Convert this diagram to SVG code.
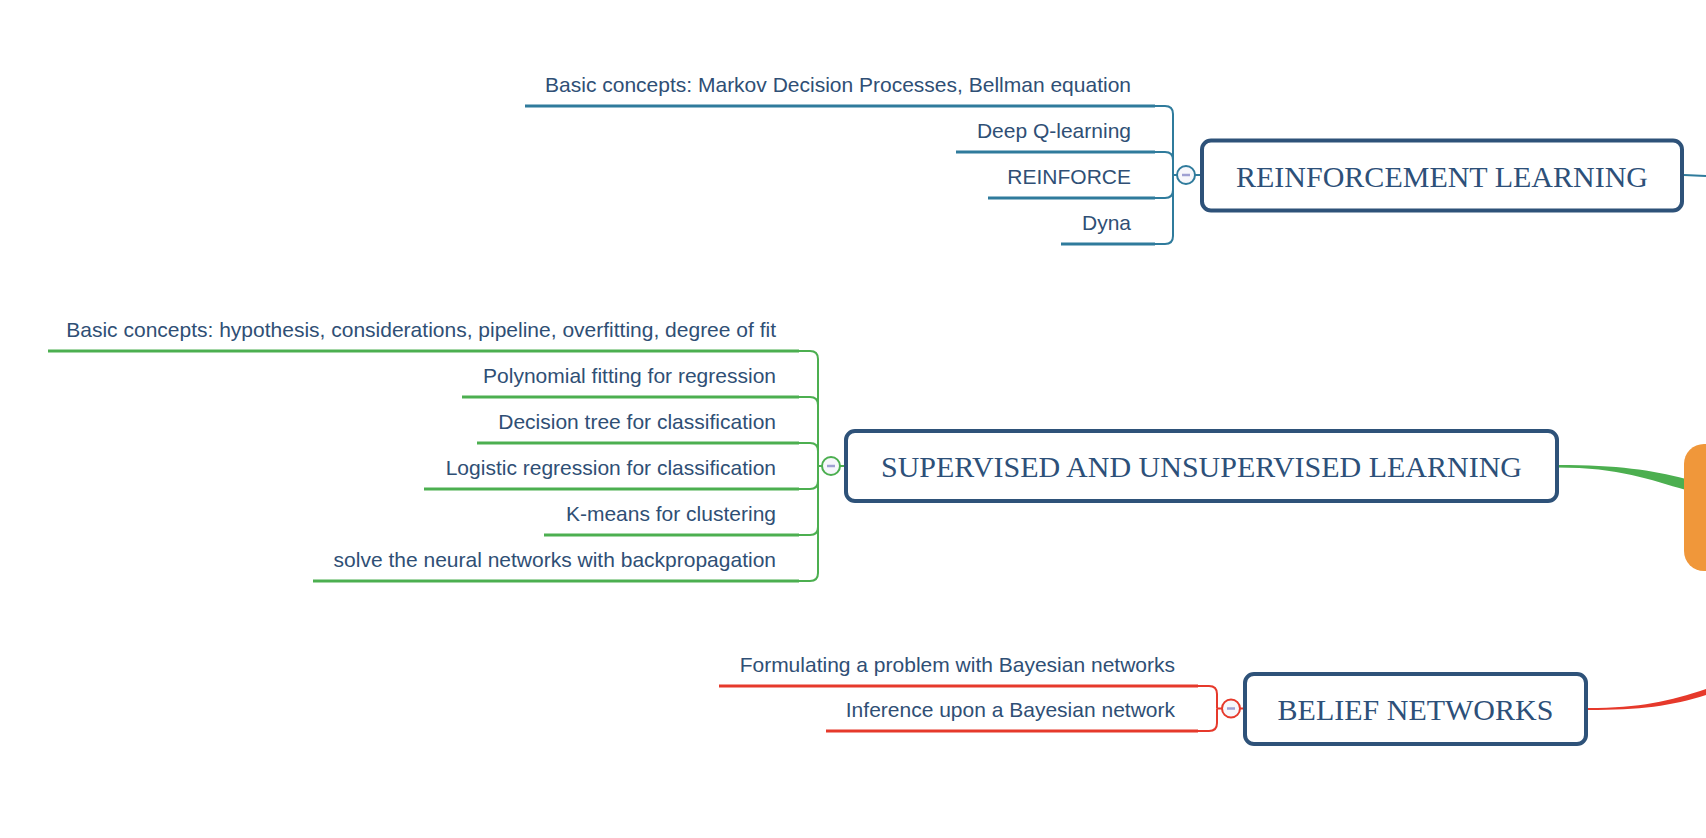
<svg xmlns="http://www.w3.org/2000/svg" width="1706" height="838" viewBox="0 0 1706 838">
<style>
.t{font-family:"Liberation Sans",Arial,sans-serif;font-size:21px;fill:#2f4f75;text-anchor:end}
.h{font-family:"Liberation Serif","Times New Roman",serif;font-size:30px;fill:#2d5079;text-anchor:middle}
.box{fill:#ffffff;stroke:#2e5279;stroke-width:4}
.ul{fill:none;stroke-width:3}
.br{fill:none;stroke-width:2}
.teal{stroke:#2f7b9c}
.green{stroke:#4caf50}
.red{stroke:#e6392b}
.tog{fill:#f7f7fb;stroke-width:2}
.minus{stroke:#9fa0d2;stroke-width:2.5}
</style>
<rect width="1706" height="838" fill="#ffffff"/>
<g id="connectors">
  <path d="M1684,175 L1706,176" fill="none" stroke="#2f7b9c" stroke-width="2"/>
  <path d="M1557,465 C1620,465 1650,470 1686,479 L1686,490 C1650,480 1620,467.5 1557,467.5 Z" fill="#4caf50"/>
  <path d="M1588,708 C1640,708 1670,701 1706,689 L1706,695 C1672,706 1640,710 1588,710 Z" fill="#e6392b"/>
  <g class="br teal">
    <path d="M1155,106 H1165 Q1173,106 1173,114 V175"/>
    <path d="M1155,152 H1165 Q1173,152 1173,160 V175"/>
    <path d="M1155,198 H1165 Q1173,198 1173,190 V175"/>
    <path d="M1155,244 H1165 Q1173,244 1173,236 V175"/>
    <path d="M1173,175 H1177 M1195,175 H1201"/>
  </g>
  <g class="br green">
    <path d="M799,351 H810 Q818,351 818,359 V466"/>
    <path d="M799,397 H810 Q818,397 818,405 V466"/>
    <path d="M799,443 H810 Q818,443 818,451 V466"/>
    <path d="M799,489 H810 Q818,489 818,481 V466"/>
    <path d="M799,535 H810 Q818,535 818,527 V466"/>
    <path d="M799,581 H810 Q818,581 818,573 V466"/>
    <path d="M818,466 H822 M840,466 H845"/>
  </g>
  <g class="br red">
    <path d="M1198,686 H1209 Q1217,686 1217,694 V708.5"/>
    <path d="M1198,731 H1209 Q1217,731 1217,723 V708.5"/>
    <path d="M1217,708.5 H1222 M1240,708.5 H1244"/>
  </g>
</g>
<g id="central">
  <rect x="1684" y="444" width="70" height="127" rx="20" fill="#f0973a"/>
</g>
<g id="rl">
  <rect class="box" x="1202" y="140.5" width="480" height="70" rx="9"/>
  <text class="h" x="1442" y="187">REINFORCEMENT LEARNING</text>
  <circle class="tog teal" cx="1186" cy="175" r="9"/>
  <line class="minus" x1="1182" y1="175" x2="1190" y2="175"/>
</g>
<g id="rl-children">
  <g class="ul teal">
    <line x1="525" y1="106" x2="1155" y2="106"/>
    <line x1="956" y1="152" x2="1155" y2="152"/>
    <line x1="988" y1="198" x2="1155" y2="198"/>
    <line x1="1061" y1="244" x2="1155" y2="244"/>
  </g>
  <text class="t" x="1131" y="92">Basic concepts: Markov Decision Processes, Bellman equation</text>
  <text class="t" x="1131" y="138">Deep Q-learning</text>
  <text class="t" x="1131" y="184">REINFORCE</text>
  <text class="t" x="1131" y="230">Dyna</text>
</g>
<g id="sl">
  <rect class="box" x="846" y="431" width="711" height="70" rx="9"/>
  <text class="h" x="1201.5" y="477">SUPERVISED AND UNSUPERVISED LEARNING</text>
  <circle class="tog green" cx="831" cy="466" r="9"/>
  <line class="minus" x1="827" y1="466" x2="835" y2="466"/>
</g>
<g id="sl-children">
  <g class="ul green">
    <line x1="48" y1="351" x2="799" y2="351"/>
    <line x1="462" y1="397" x2="799" y2="397"/>
    <line x1="477" y1="443" x2="799" y2="443"/>
    <line x1="424" y1="489" x2="799" y2="489"/>
    <line x1="544" y1="535" x2="799" y2="535"/>
    <line x1="313" y1="581" x2="799" y2="581"/>
  </g>
  <text class="t" x="776" y="337">Basic concepts: hypothesis, considerations, pipeline, overfitting, degree of fit</text>
  <text class="t" x="776" y="383">Polynomial fitting for regression</text>
  <text class="t" x="776" y="429">Decision tree for classification</text>
  <text class="t" x="776" y="475">Logistic regression for classification</text>
  <text class="t" x="776" y="521">K-means for clustering</text>
  <text class="t" x="776" y="567">solve the neural networks with backpropagation</text>
</g>
<g id="bn">
  <rect class="box" x="1245" y="674" width="341" height="70" rx="9"/>
  <text class="h" x="1415.5" y="720">BELIEF NETWORKS</text>
  <circle class="tog red" cx="1231" cy="708.5" r="9"/>
  <line class="minus" x1="1227" y1="708.5" x2="1235" y2="708.5"/>
</g>
<g id="bn-children">
  <g class="ul red">
    <line x1="719" y1="686" x2="1198" y2="686"/>
    <line x1="826" y1="731" x2="1198" y2="731"/>
  </g>
  <text class="t" x="1175" y="672">Formulating a problem with Bayesian networks</text>
  <text class="t" x="1175" y="717">Inference upon a Bayesian network</text>
</g>
</svg>
